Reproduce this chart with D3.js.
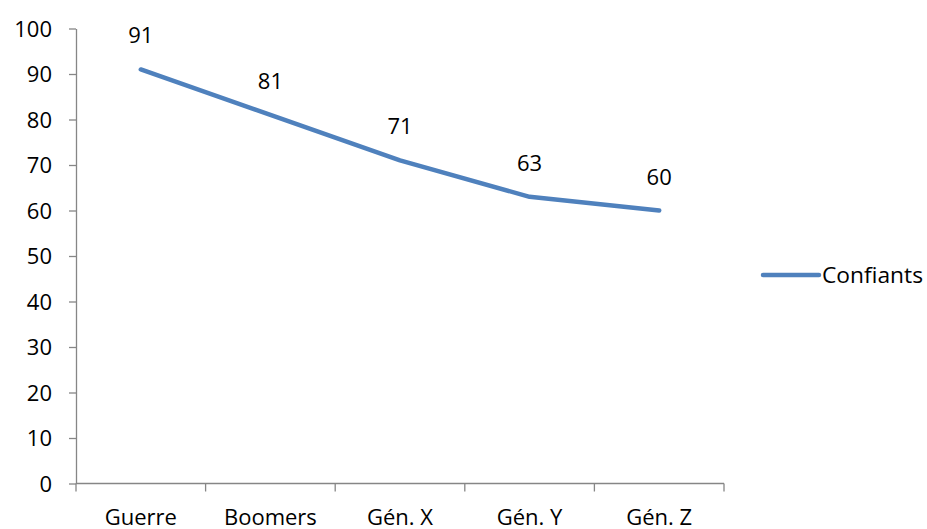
<!DOCTYPE html>
<html>
<head>
<meta charset="utf-8">
<script src="https://cdn.jsdelivr.net/npm/d3@7"></script>
<style>
  html, body { margin: 0; padding: 0; background: #fff; }
  svg text { font-family: "Open Sans", Lato, sans-serif; fill: #000; }
</style>
</head>
<body>
<svg id="chart" width="927" height="529"></svg>
<script>
// Share of respondents who are confident, by generation
const categories = ["Guerre", "Boomers", "Gén. X", "Gén. Y", "Gén. Z"];
const values = [91, 81, 71, 63, 60];
const seriesName = "Confiants";
const yTicks = [0, 10, 20, 30, 40, 50, 60, 70, 80, 90, 100];

const svg = d3.select("#chart");
const margin = { left: 76, right: 203, top: 28.5, bottom: 45.5 };
const W = 927, H = 529;
const axisColor = "#868686";
const lineColor = "#4F81BD";
const fontSize = 22;
const fontFamily = "'Open Sans', Lato, sans-serif";

const x = d3.scaleBand().domain(categories).range([margin.left, W - margin.right]);
const y = d3.scaleLinear().domain([0, 100]).range([H - margin.bottom, margin.top]);

// Y axis
const yAxis = svg.append("g").attr("transform", `translate(${margin.left},0)`)
  .call(d3.axisLeft(y).tickValues(yTicks).tickSize(7).tickPadding(17).tickSizeOuter(0));
yAxis.select(".domain").attr("stroke", axisColor).attr("stroke-width", 1.3);
yAxis.selectAll(".tick line").attr("stroke", axisColor).attr("stroke-width", 1.3);
yAxis.selectAll(".tick text").attr("font-size", fontSize).attr("font-family", fontFamily)
  .attr("dy", "0.36em");

// X axis with tick marks on category boundaries
const xg = svg.append("g").attr("transform", `translate(0,${y(0)})`);
xg.append("line").attr("x1", margin.left).attr("x2", W - margin.right)
  .attr("stroke", axisColor).attr("stroke-width", 1.3);
const bounds = categories.map(c => x(c)).concat([x(categories[categories.length - 1]) + x.bandwidth()]);
xg.selectAll("line.tk").data(bounds).enter().append("line").attr("class", "tk")
  .attr("x1", d => d).attr("x2", d => d).attr("y1", 0).attr("y2", 8)
  .attr("stroke", axisColor).attr("stroke-width", 1.3);
xg.selectAll("text").data(categories).enter().append("text")
  .attr("x", d => x(d) + x.bandwidth() / 2).attr("y", 41)
  .attr("text-anchor", "middle").attr("font-size", fontSize).text(d => d);

// Line series
const data = categories.map((c, i) => ({ c, v: values[i] }));
const line = d3.line().x(d => x(d.c) + x.bandwidth() / 2).y(d => y(d.v));
svg.append("path").datum(data).attr("d", line)
  .attr("fill", "none").attr("stroke", lineColor).attr("stroke-width", 4.5)
  .attr("stroke-linecap", "round").attr("stroke-linejoin", "round");

// Value labels
svg.selectAll("text.lbl").data(data).enter().append("text").attr("class", "lbl")
  .attr("x", d => x(d.c) + x.bandwidth() / 2).attr("y", d => y(d.v) - 26)
  .attr("text-anchor", "middle").attr("font-size", fontSize).text(d => d.v);

// Legend
const lg = svg.append("g").attr("transform", "translate(763,275)");
lg.append("line").attr("x1", 0).attr("x2", 56).attr("y1", 0).attr("y2", 0)
  .attr("stroke", lineColor).attr("stroke-width", 4.5).attr("stroke-linecap", "round");
lg.append("text").attr("x", 59).attr("y", 8).attr("font-size", fontSize)
  .attr("textLength", 101).attr("lengthAdjust", "spacingAndGlyphs").text(seriesName);
</script>
</body>
</html>
